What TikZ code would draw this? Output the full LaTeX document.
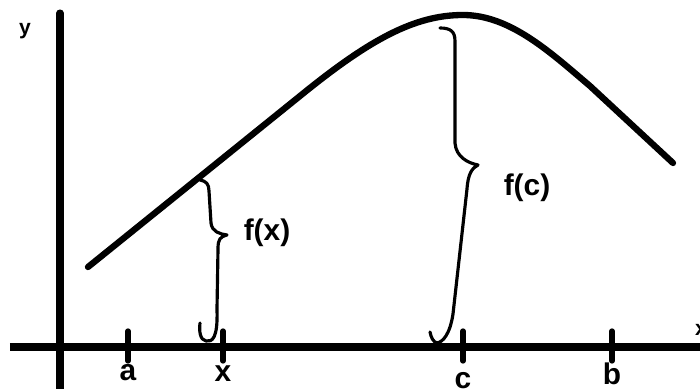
\documentclass[tikz,border=0pt]{standalone}
\usepackage{fontspec}
\setmainfont{Liberation Sans}
\begin{document}
\begin{tikzpicture}[x=.1mm,y=.1mm,font=\bfseries\fontsize{8.5}{10}\selectfont,
  axis/.style={line width=2pt},brace/.style={line width=.9pt,line cap=round,line join=round},
  small/.style={font=\bfseries\fontsize{6}{7}\selectfont}]
\useasboundingbox(0,0)rectangle(700,389);
\draw[axis,line cap=round](60,-5)--(60,376);
\draw[axis](10,42)--(705,42);
\foreach \p/\l/\h in {128/a/16,223/x/15,463/c/8,612/b/15}{\draw[line width=1.5pt,line cap=round](\p,28)--(\p,58);\node(lbl\l)at(\p,\h){\l};}
\node[small](ylbl)at(25,358){y};\node[small](xlbl)at(701,59){x};
\draw[line width=1.8pt,line cap=round](88,122)--(300,293)..controls(370,350)and(415,374)..(463,374)..controls(510,374)and(550,337)..(590,303)--(673,226);
\draw[brace](200,209)..controls(206,208)and(209,205)..(209,198)--(211,166)..controls(212,157)and(220,155)..(227,154)..controls(220,152)and(218,150)..(218,140)--(217,80)..controls(218,50)and(212,47)..(206,48)..controls(200,49)and(199,58)..(200,66);
\draw[brace](440,361)..controls(450,361)and(455,358)..(455,348)--(455,246)..controls(456,232)and(468,226)..(478,224)..controls(472,221)and(468,215)..(467,200)--(453,75)..controls(450,55)and(443,47)..(437,46)..controls(433,47)and(431,52)..(430,57);
\node(fx)at(267,156){f(x)};\node(fc)at(527,201){f(c)};
\end{tikzpicture}
\end{document}
